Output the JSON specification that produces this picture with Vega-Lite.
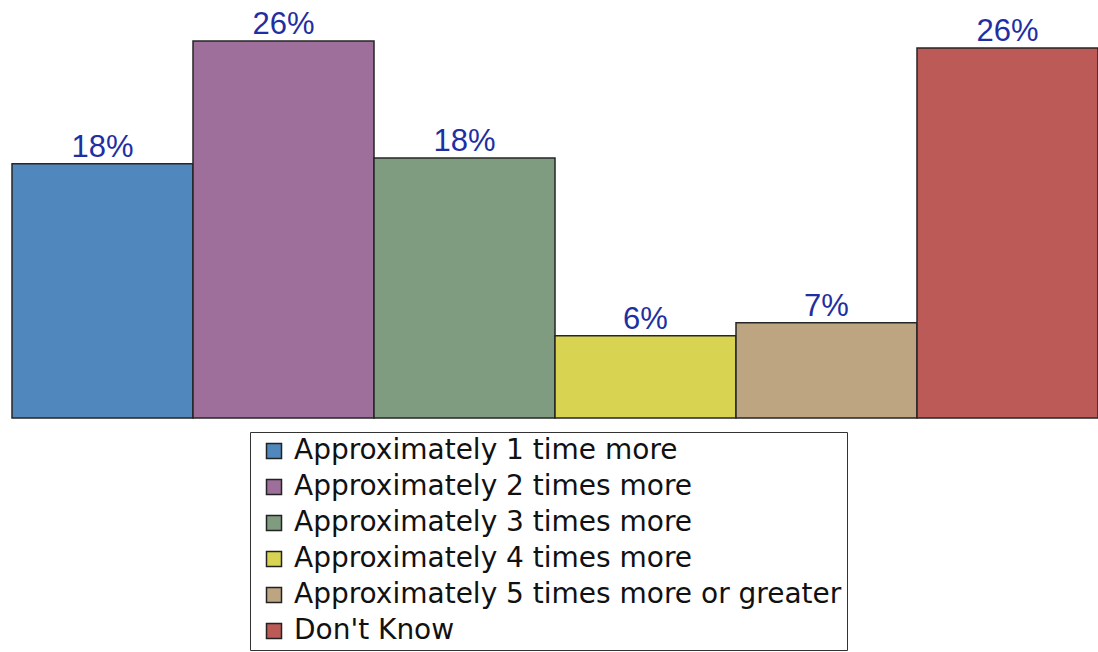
{
  "$schema": "https://vega.github.io/schema/vega-lite/v6.json",
  "width": 1086,
  "height": 418,
  "padding": {"left": 11, "top": 0, "right": 1, "bottom": 0},
  "background": "white",
  "config": {"view": {"stroke": null}},
  "data": {
    "values": [
      {"answer": "Approximately 1 time more", "share": 0.176},
      {"answer": "Approximately 2 times more", "share": 0.261},
      {"answer": "Approximately 3 times more", "share": 0.18},
      {"answer": "Approximately 4 times more", "share": 0.057},
      {"answer": "Approximately 5 times more or greater", "share": 0.066},
      {"answer": "Don't Know", "share": 0.256}
    ]
  },
  "encoding": {
    "x": {
      "field": "answer",
      "type": "nominal",
      "sort": null,
      "axis": null,
      "scale": {"paddingInner": 0, "paddingOuter": 0}
    },
    "y": {
      "field": "share",
      "type": "quantitative",
      "axis": null,
      "scale": {"domain": [0, 0.2893], "nice": false}
    }
  },
  "layer": [
    {
      "mark": {"type": "bar", "stroke": "#262626", "strokeWidth": 1.5, "opacity": 1},
      "encoding": {
        "color": {
          "field": "answer",
          "type": "nominal",
          "sort": null,
          "title": null,
          "scale": {
            "range": ["#5088be", "#9e6f9b", "#7f9c80", "#d8d452", "#bea582", "#bb5a57"]
          },
          "legend": {
            "orient": "none",
            "legendX": 238,
            "legendY": 432,
            "direction": "vertical",
            "fillColor": "white",
            "strokeColor": "#333333",
            "padding": 5,
            "symbolOffset": 5,
            "symbolType": "square",
            "symbolSize": 225,
            "symbolStrokeColor": "#222222",
            "symbolStrokeWidth": 1.5,
            "labelFont": "DejaVu Sans",
            "labelFontSize": 28,
            "labelColor": "#111111",
            "labelOffset": 6,
            "labelLimit": 0,
            "rowPadding": 8
          }
        }
      }
    },
    {
      "mark": {
        "type": "text",
        "baseline": "alphabetic",
        "dy": -7,
        "font": "Liberation Sans",
        "fontSize": 31,
        "color": "#1f2fa3"
      },
      "encoding": {
        "text": {"field": "share", "type": "quantitative", "format": ".0%"},
        "tooltip": null
      }
    }
  ]
}
